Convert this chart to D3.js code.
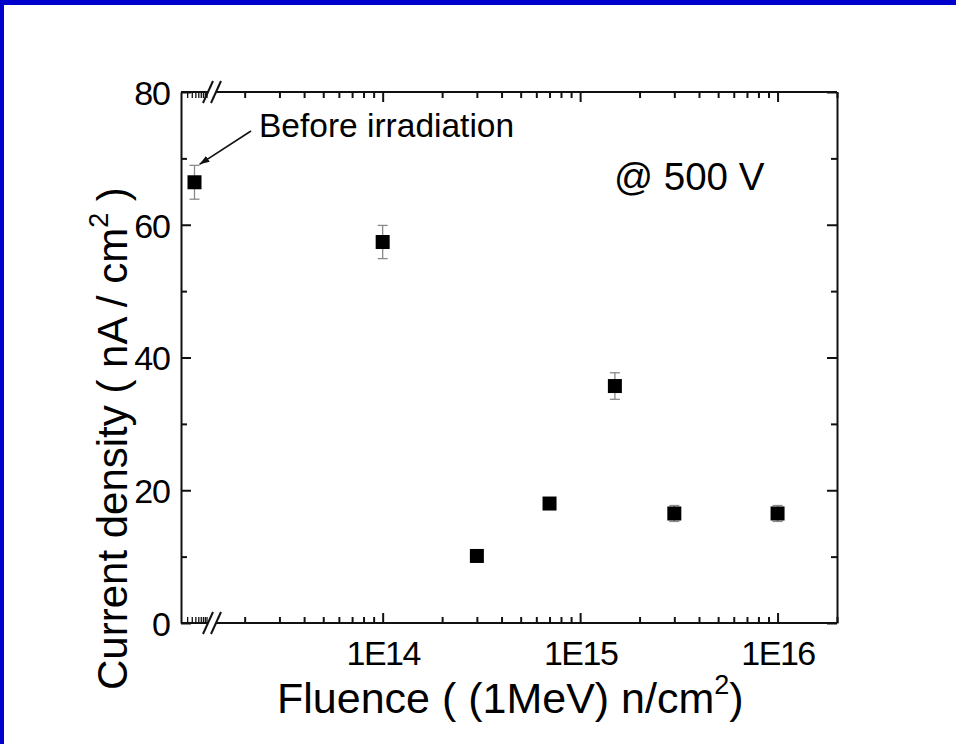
<!DOCTYPE html>
<html><head><meta charset="utf-8">
<script src="https://cdn.jsdelivr.net/npm/d3@7"></script>
<style>
html,body{margin:0;padding:0;background:#fff;}
svg{display:block;}
text{font-family:"Liberation Sans",Arial,sans-serif;fill:#000;}
</style></head>
<body>
<script>
// ---- data ----
const breakCategory = ["Before irradiation"];
const fluences = [1e14, 3e14, 7e14, 1.5e15, 3e15, 1e16];
const currentDensity = [57.4, 10.1, 18.0, 35.7, 16.5, 16.5];
const currentError = [2.5, 0.5, 0.5, 2.0, 1.2, 1.2];
const beforeValue = 66.4;
const beforeError = 2.55;
const yMajorTicks = [0, 20, 40, 60, 80];
const yMinorTicks = [10, 30, 50, 70];
const xMajorTicks = [1e14, 1e15, 1e16];
const xTickLabels = ["1E14", "1E15", "1E16"];
const xTitle = "Fluence ( (1MeV) n/cm";
const yTitle = "Current density ( nA / cm";
const annotation = "Before irradiation";
const voltageLabel = "@ 500 V";

const W = 956, H = 744;
const L = 181, R = 837, T = 92, B = 623;
const svg = d3.select("body").append("svg").attr("width", W).attr("height", H);

// blue frame
svg.append("rect").attr("x",0).attr("y",0).attr("width",W).attr("height",5).attr("fill","#0000cc");
svg.append("rect").attr("x",0).attr("y",0).attr("width",4).attr("height",H).attr("fill","#0000cc");

const y = d3.scaleLinear().domain([0, 80]).range([B, T]);
const xBreak = d3.scalePoint().domain(breakCategory).range([L, 208]).padding(0.5);
const xDeco = d3.scaleLog().domain([1e12, 1e13]).range([170, 207]);
const xR = d3.scaleLog().domain([1.5e13, 2e16]).range([220, 837]);

const minorX = [];
for (let e = 13; e <= 16; e++) for (let k = 1; k <= 9; k++) {
  const v = k * Math.pow(10, e);
  if (v >= 1.5e13 && v <= 2e16) minorX.push(v);
}
const decoTicks = xDeco.ticks().filter(v => v > 2.5e12);

const g = svg.append("g");
const stroke = "#111";

// Y axes
const yTickAll = yMajorTicks.concat(yMinorTicks);
const yl = g.append("g").attr("transform", `translate(${L},0)`)
  .call(d3.axisLeft(y).tickValues(yTickAll).tickSizeInner(-10).tickSizeOuter(0).tickPadding(11)
    .tickFormat(d => yMajorTicks.includes(d) ? d3.format("d")(d) : ""));
const yr = g.append("g").attr("transform", `translate(${R},0)`)
  .call(d3.axisRight(y).tickValues(yTickAll).tickSizeInner(-10).tickSizeOuter(0).tickFormat(""));
[yl, yr].forEach(ax => {
  ax.select(".domain").attr("stroke", stroke).attr("stroke-width", 2);
  ax.selectAll(".tick line").attr("stroke", stroke).attr("stroke-width", 2)
    .attr("x2", function(d){ const s = +d3.select(this).attr("x2"); return yMajorTicks.includes(d) ? s : s*0.6; });
});
yl.selectAll(".tick text").attr("font-size", 34).attr("letter-spacing", -1).attr("dy", "0.36em").attr("font-family","Liberation Sans, Arial, sans-serif");

// X axes (right segment)
function xAxisSeg(orient, ypos) {
  const ax = (orient === "bottom" ? d3.axisBottom(xR) : d3.axisTop(xR))
    .tickValues(minorX).tickSizeInner(-10).tickSizeOuter(0).tickPadding(18)
    .tickFormat(d => { const i = xMajorTicks.indexOf(d); return (orient === "bottom" && i >= 0) ? xTickLabels[i] : ""; });
  const sel = g.append("g").attr("transform", `translate(0,${ypos})`).call(ax);
  sel.select(".domain").remove();
  sel.selectAll(".tick line").attr("stroke", stroke).attr("stroke-width", 2)
    .attr("y2", function(d){ const s = +d3.select(this).attr("y2"); return xMajorTicks.includes(d) ? s : s*0.6; });
  sel.append("line").attr("x1", 216).attr("x2", R).attr("stroke", stroke).attr("stroke-width", 2);
  return sel;
}
const xb = xAxisSeg("bottom", B);
xAxisSeg("top", T);
xb.selectAll(".tick text").attr("font-size", 34).attr("letter-spacing", -1.5).attr("dy", "0.71em")
  .attr("font-family","Liberation Sans, Arial, sans-serif");

// left (break) segment
function decoSeg(ypos, dir) {
  const s = g.append("g").attr("transform", `translate(0,${ypos})`);
  s.append("line").attr("x1", L).attr("x2", 208).attr("stroke", stroke).attr("stroke-width", 2);
  s.selectAll("line.t").data(decoTicks).join("line").attr("class","t")
    .attr("x1", d => xDeco(d)).attr("x2", d => xDeco(d)).attr("y1", 0).attr("y2", dir*6)
    .attr("stroke", stroke).attr("stroke-width", 1.3);
  [208, 216].forEach(cx => {
    s.append("line").attr("x1", cx-5).attr("y1", 11).attr("x2", cx+5).attr("y2", -11)
      .attr("stroke", stroke).attr("stroke-width", 2);
  });
}
decoSeg(B, -1);
decoSeg(T, 1);

// error bars
function errBar(cx, v, e) {
  const eg = g.append("g").attr("stroke", "#8a8a8a").attr("stroke-width", 1.3);
  eg.append("line").attr("x1", cx).attr("x2", cx).attr("y1", y(v+e)).attr("y2", y(v-e));
  eg.append("line").attr("x1", cx-5).attr("x2", cx+5).attr("y1", y(v+e)).attr("y2", y(v+e));
  eg.append("line").attr("x1", cx-5).attr("x2", cx+5).attr("y1", y(v-e)).attr("y2", y(v-e));
}
errBar(xBreak(breakCategory[0]), beforeValue, beforeError);
fluences.forEach((f, i) => errBar(xR(f), currentDensity[i], currentError[i]));

// squares
const sq = 14;
g.append("rect").attr("x", xBreak(breakCategory[0]) - sq/2).attr("y", y(beforeValue) - sq/2)
  .attr("width", sq).attr("height", sq).attr("fill", "#000");
g.selectAll("rect.pt").data(fluences).join("rect").attr("class","pt")
  .attr("x", d => xR(d) - sq/2).attr("y", (d,i) => y(currentDensity[i]) - sq/2)
  .attr("width", sq).attr("height", sq).attr("fill", "#000");

// annotation + arrow
svg.append("defs").append("marker").attr("id","ah").attr("viewBox","0 0 10 10").attr("refX",10).attr("refY",5)
  .attr("markerWidth",10).attr("markerHeight",10).attr("markerUnits","userSpaceOnUse").attr("orient","auto")
  .append("path").attr("d","M0,1.5 L10,5 L0,8.5 Z").attr("fill","#111");
const tipX = xBreak(breakCategory[0]) + 5, tipY = y(beforeValue + beforeError) - 1;
g.append("line").attr("x1", 251).attr("y1", 131).attr("x2", tipX).attr("y2", tipY)
  .attr("stroke", "#111").attr("stroke-width", 1.6).attr("marker-end", "url(#ah)");
g.append("text").attr("x", 259).attr("y", 137).attr("font-size", 33.5).text(annotation);
g.append("text").attr("x", 614).attr("y", 190).attr("font-size", 38.5).text(voltageLabel);

// axis titles
const xt = svg.append("text").attr("x", 277).attr("y", 713).attr("font-size", 43);
xt.append("tspan").text(xTitle);
xt.append("tspan").attr("font-size", 27).attr("dy", -19).text("2");
xt.append("tspan").attr("dy", 19).text(")");

const yt = svg.append("text").attr("transform", "translate(127,690) rotate(-90)").attr("font-size", 42);
yt.append("tspan").text(yTitle);
yt.append("tspan").attr("font-size", 27).attr("dy", -19).text("2");
yt.append("tspan").attr("dy", 19).text(" )");
</script>
</body></html>
